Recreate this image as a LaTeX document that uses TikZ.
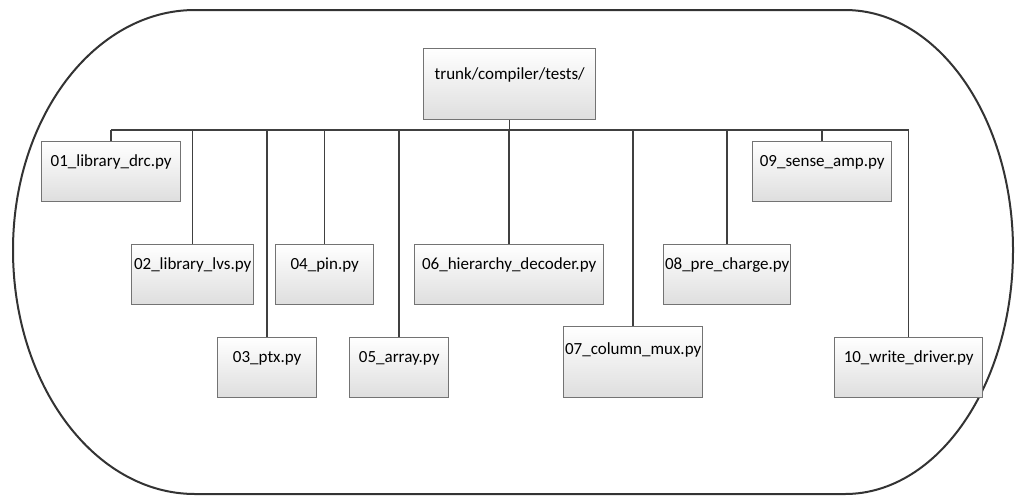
\documentclass[tikz,border=0pt]{standalone}
\usepackage{fontspec}
\setmainfont{Carlito}
\usetikzlibrary{shadings}
\begin{document}
\begin{tikzpicture}[x=1pt,y=-1pt,
  filebox/.style={draw=black!55, line width=1.4pt, top color=white, bottom color=black!13,
    anchor=north west, inner sep=0pt, minimum height=60pt},
  tallbox/.style={filebox, minimum height=71pt},
  fname/.style={anchor=center, yshift=-21pt, font=\fontsize{17}{20}\selectfont, inner sep=0pt},
  tallfname/.style={anchor=center, yshift=-24pt, font=\fontsize{17}{20}\selectfont, inner sep=0pt},
  wire/.style={draw=black!75, line width=1.5pt},
  frame/.style={draw=black!80, line width=2pt}]
\useasboundingbox (0,0) rectangle (1017,496);

% rounded outer frame
\draw[frame] (195,10) -- (845,10)
  .. controls (937.8,10) and (1013,117.5) .. (1013,250)
  .. controls (1013,384.8) and (937.8,494) .. (845,494)
  -- (195,494)
  .. controls (94.5,494) and (13,384.8) .. (13,250)
  .. controls (13,117.5) and (94.5,10) .. (195,10) -- cycle;

% root directory
\node[tallbox, minimum width=172pt, label={[tallfname, yshift=-3pt]north:trunk/compiler/tests/}] (root) at (423,48) {};

% test files
\node[filebox, minimum width=139pt, label={[fname]north:01\_library\_drc.py}] (n01) at (41,141) {};
\node[filebox, minimum width=122pt, label={[fname]north:02\_library\_lvs.py}] (n02) at (131,244) {};
\node[filebox, minimum width=99pt,  label={[fname]north:03\_ptx.py}] (n03) at (217,337) {};
\node[filebox, minimum width=98pt,  label={[fname]north:04\_pin.py}] (n04) at (275,244) {};
\node[filebox, minimum width=99pt,  label={[fname]north:05\_array.py}] (n05) at (349,337) {};
\node[filebox, minimum width=189pt, label={[fname]north:06\_hierarchy\_decoder.py}] (n06) at (414,244) {};
\node[tallbox, minimum width=139pt, label={[tallfname]north:07\_column\_mux.py}] (n07) at (563,326) {};
\node[filebox, minimum width=127pt, label={[fname]north:08\_pre\_charge.py}] (n08) at (663,244) {};
\node[filebox, minimum width=139pt, label={[fname]north:09\_sense\_amp.py}] (n09) at (752,141) {};
\node[filebox, minimum width=148pt, label={[fname]north:10\_write\_driver.py}] (n10) at (834,337) {};

% bus
\coordinate (bus) at (0,130);
\draw[wire] (root.south) -- (root.south |- bus);
\draw[wire] (n01.north |- bus) -- (n10.north |- bus);
\foreach \n in {n01,n02,n03,n04,n05,n06,n07,n08,n09,n10}
  \draw[wire] (\n.north) -- (\n.north |- bus);
\end{tikzpicture}
\end{document}
